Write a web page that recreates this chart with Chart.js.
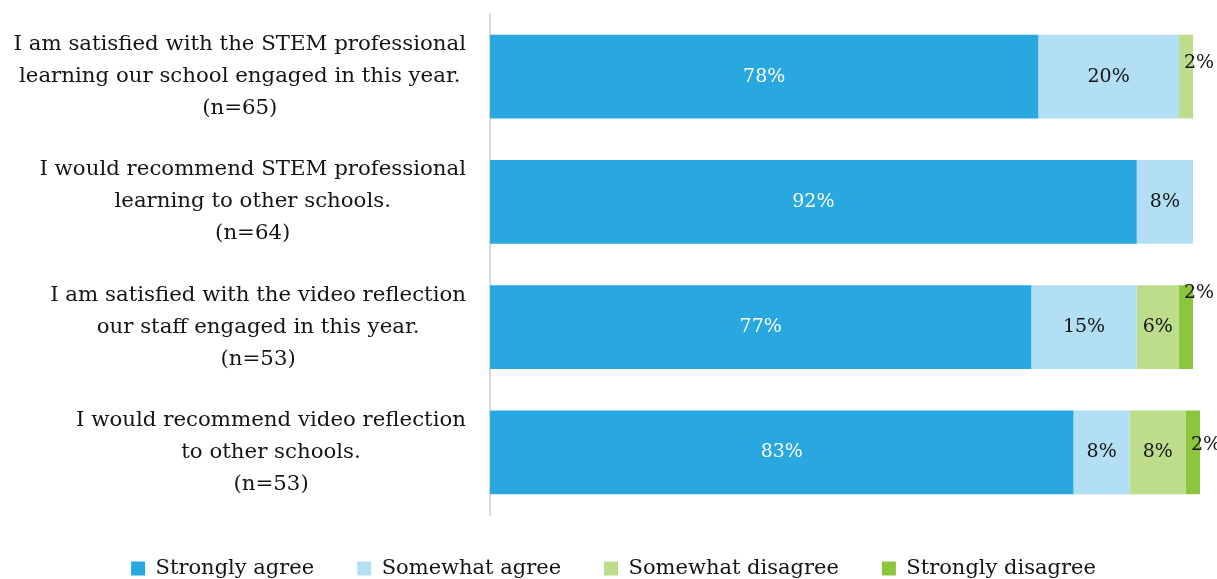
<!DOCTYPE html>
<html>
<head>
<meta charset="utf-8">
<script src="https://cdn.jsdelivr.net/npm/chart.js@4/dist/chart.umd.min.js"></script>
<style>
  html, body { margin: 0; padding: 0; background: #fff; overflow: hidden; }
  #wrap { width: 1217px; height: 589px; }
</style>
</head>
<body>
<div id="wrap"><canvas id="surveyChart"></canvas></div>
<script>
// Survey statements (one array of lines per statement)
const statements = [
  ['I am satisfied with the STEM professional', 'learning our school engaged in this year.', '(n=65)'],
  ['I would recommend STEM professional', 'learning to other schools.', '(n=64)'],
  ['I am satisfied with the video reflection', 'our staff engaged in this year.', '(n=53)'],
  ['I would recommend video reflection', 'to other schools.', '(n=53)']
];

const responseLabels = ['Strongly agree', 'Somewhat agree', 'Somewhat disagree', 'Strongly disagree'];

// Percent of respondents per statement
const stronglyAgree    = [78, 92, 77, 83];
const somewhatAgree    = [20, 8, 15, 8];
const somewhatDisagree = [2, 0, 6, 8];
const stronglyDisagree = [0, 0, 2, 2];

const FONT = "'DejaVu Serif', serif";
const INK = '#141414';
const colors = ['#29a8e0', '#b2dff3', '#bddd8c', '#8cc63f'];
const textColors = ['#ffffff', INK, INK, INK];

// Draws the wrapped statements to the left of the bars, block right-aligned, lines centred
const statementLabels = {
  id: 'statementLabels',
  afterDraw(chart) {
    const { ctx, chartArea, scales: { y } } = chart;
    ctx.save();
    ctx.font = `21.3px ${FONT}`;
    ctx.fillStyle = INK;
    ctx.textAlign = 'center';
    ctx.textBaseline = 'middle';
    const right = chartArea.left - 24;
    const lineH = 32;
    statements.forEach((lines, i) => {
      const maxW = Math.max(...lines.map(l => ctx.measureText(l).width));
      const cx = right - maxW / 2;
      const cy = y.getPixelForValue(i);
      lines.forEach((l, k) => {
        ctx.fillText(l, cx, cy + (k - (lines.length - 1) / 2) * lineH);
      });
    });
    ctx.restore();
  }
};

// Percent labels on each segment; tiny segments get their label just past the bar end
const segmentLabels = {
  id: 'segmentLabels',
  afterDatasetsDraw(chart, args, opts) {
    const { ctx } = chart;
    ctx.save();
    ctx.font = `19px ${FONT}`;
    ctx.textBaseline = 'middle';
    ctx.textAlign = 'center';
    chart.data.datasets.forEach((ds, di) => {
      const meta = chart.getDatasetMeta(di);
      meta.data.forEach((bar, i) => {
        const v = ds.data[i];
        if (!v) return;
        const left = Math.min(bar.x, bar.base);
        const right = Math.max(bar.x, bar.base);
        if (v <= 2) {
          ctx.fillStyle = INK;
          ctx.fillText(v + '%', right + 6, bar.y - opts.lift[i]);
        } else {
          ctx.fillStyle = textColors[di];
          ctx.fillText(v + '%', (left + right) / 2, bar.y);
        }
      });
    });
    ctx.restore();
  }
};

const seriesValues = [stronglyAgree, somewhatAgree, somewhatDisagree, stronglyDisagree];

new Chart(document.getElementById('surveyChart'), {
  type: 'bar',
  data: {
    labels: statements.map(s => s.join(' ')),
    datasets: responseLabels.map((label, i) => ({
      label,
      data: seriesValues[i],
      backgroundColor: colors[i],
      borderWidth: 0,
      barPercentage: 0.67,
      categoryPercentage: 1,
      clip: false
    }))
  },
  options: {
    indexAxis: 'y',
    responsive: true,
    maintainAspectRatio: false,
    animation: false,
    layout: { padding: { top: 14, left: 34, right: 24 } },
    scales: {
      x: { stacked: true, min: 0, max: 100, display: false },
      y: {
        stacked: true,
        grid: { display: false },
        border: { display: true, color: '#d9d9d9', width: 2 },
        ticks: { display: false },
        afterFit(scale) { scale.width = 456; }
      }
    },
    plugins: {
      tooltip: { enabled: false },
      legend: {
        position: 'bottom',
        labels: {
          boxWidth: 14,
          boxHeight: 14,
          padding: 43,
          color: INK,
          font: { family: FONT, size: 21 }
        }
      },
      segmentLabels: { lift: [14, 0, 34, 7] }
    }
  },
  plugins: [statementLabels, segmentLabels]
});
</script>
</body>
</html>
